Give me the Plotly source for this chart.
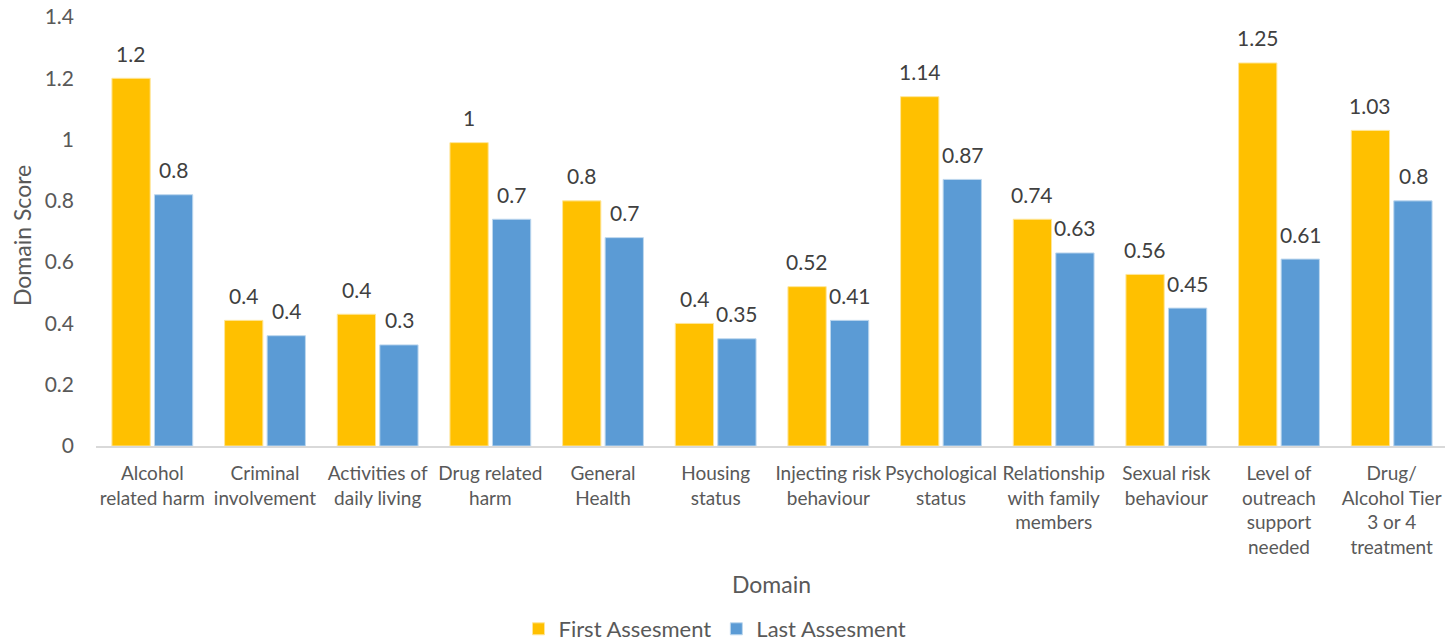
import plotly.graph_objects as go

categories = [
    "Alcohol<br>related harm", "Criminal<br>involvement", "Activities of<br>daily living",
    "Drug related<br>harm", "General<br>Health", "Housing<br>status",
    "Injecting risk<br>behaviour", "Psychological<br>status",
    "Relationship<br>with family<br>members", "Sexual risk<br>behaviour",
    "Level of<br>outreach<br>support<br>needed", "Drug/<br>Alcohol Tier<br>3 or 4<br>treatment",
]
first_values = [1.20, 0.41, 0.43, 0.99, 0.80, 0.40, 0.52, 1.14, 0.74, 0.56, 1.25, 1.03]
last_values = [0.82, 0.36, 0.33, 0.74, 0.68, 0.35, 0.41, 0.87, 0.63, 0.45, 0.61, 0.80]
first_labels = ["1.2", "0.4", "0.4", "1", "0.8", "0.4", "0.52", "1.14", "0.74", "0.56", "1.25", "1.03"]
last_labels = ["0.8", "0.4", "0.3", "0.7", "0.7", "0.35", "0.41", "0.87", "0.63", "0.45", "0.61", "0.8"]
y_ticks = [0, 0.2, 0.4, 0.6, 0.8, 1.0, 1.2, 1.4]
y_ticktext = ["0", "0.2", "0.4", "0.6", "0.8", "1", "1.2", "1.4"]

FONT = "Lato, Carlito, Calibri, sans-serif"
YELLOW = "#FFC000"
BLUE = "#5B9BD5"
LABEL_COLOR = "#404040"
AXIS_TEXT = "#595959"

# page body adds an 8px offset; figure coords = reference coords - 8
FIG_W, FIG_H = 1445, 634
PLOT_L, PLOT_T, PLOT_R, PLOT_B = 88, 9, 1440, 438
plot_h = PLOT_B - PLOT_T
plot_w = PLOT_R - PLOT_L


def ypaper(py):
    return (PLOT_B - py) / plot_h


def xpaper(px):
    return (px - PLOT_L) / plot_w


fig = go.Figure()
fig.add_trace(go.Bar(name="First Assesment", x=categories, y=first_values,
                     marker=dict(color=YELLOW, line=dict(color="#FFE699", width=1))))
fig.add_trace(go.Bar(name="Last Assesment", x=categories, y=last_values,
                     marker=dict(color=BLUE, line=dict(color="#BDD7EE", width=1))))

annotations = []
for cat, v, t in zip(categories, first_values, first_labels):
    annotations.append(dict(x=cat, y=v, xref="x", yref="y", text=t, showarrow=False,
                            xshift=-21.5, yshift=25, yanchor="middle",
                            font=dict(family=FONT, size=21, color=LABEL_COLOR)))
for cat, v, t in zip(categories, last_values, last_labels):
    annotations.append(dict(x=cat, y=v, xref="x", yref="y", text=t, showarrow=False,
                            xshift=21.5, yshift=25, yanchor="middle",
                            font=dict(family=FONT, size=21, color=LABEL_COLOR)))
annotations.append(dict(x=xpaper(763), y=ypaper(576), xref="paper", yref="paper", text="Domain",
                        showarrow=False, xanchor="center", yanchor="middle",
                        font=dict(family=FONT, size=23, color=AXIS_TEXT)))
annotations.append(dict(x=xpaper(14), y=ypaper(228), xref="paper", yref="paper", text="Domain Score",
                        showarrow=False, textangle=-90, xanchor="center", yanchor="middle",
                        font=dict(family=FONT, size=23, color=AXIS_TEXT)))

fig.update_layout(
    width=FIG_W, height=FIG_H,
    margin=dict(l=PLOT_L, r=FIG_W - PLOT_R, t=PLOT_T, b=FIG_H - PLOT_B, autoexpand=False),
    paper_bgcolor="white", plot_bgcolor="white",
    barmode="group", bargap=0.245, bargroupgap=0.1,
    font=dict(family=FONT, color=AXIS_TEXT),
    showlegend=True,
    legend=dict(orientation="h", x=xpaper(707), xanchor="center", y=ypaper(621), yanchor="middle",
                font=dict(family=FONT, size=22, color=AXIS_TEXT), itemwidth=30,
                traceorder="normal"),
    xaxis=dict(showline=True, linecolor="#D9D9D9", linewidth=2, ticks="",
               ticklabelstandoff=9,
               tickfont=dict(family=FONT, size=19, color=AXIS_TEXT), showgrid=False),
    yaxis=dict(range=[0, 1.4], tickvals=y_ticks, ticktext=y_ticktext, showgrid=False,
               zeroline=False, showline=False, ticks="", ticklabelstandoff=21,
               ticklabeloverflow="allow",
               tickfont=dict(family=FONT, size=21, color=AXIS_TEXT)),
    annotations=annotations,
)

fig.write_html("out.html")
